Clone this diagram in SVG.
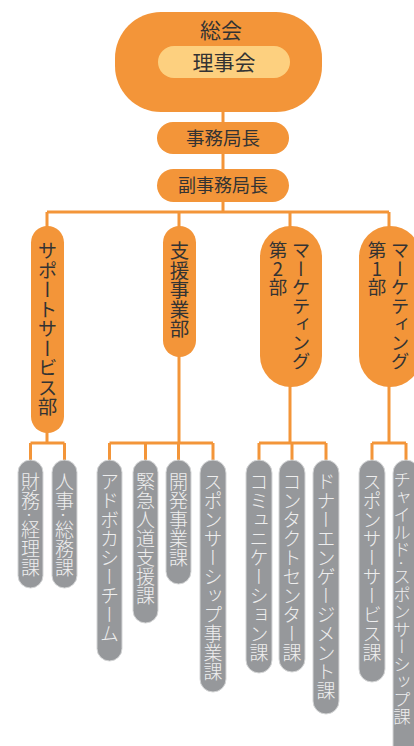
<svg xmlns="http://www.w3.org/2000/svg" width="414" height="746" viewBox="0 0 414 746">
<style>
.o{fill:#F39539;}
.y{fill:#FDD07F;}
.g{fill:#96989B;stroke:#D4D5D6;stroke-width:1;}
.ln{stroke:#F39539;stroke-width:3;fill:none;}
.t{font-family:"Noto Sans CJK JP","Noto Sans",sans-serif;fill:#333333;}
.h{text-anchor:middle;}
.v{writing-mode:vertical-rl;}
.up{text-orientation:upright;}
.vd{font-size:19.5px;}
.vm{font-size:18.5px;}
.vg{font-size:19px;fill:#EEEEEE;font-weight:300;}
</style>
<rect width="414" height="746" fill="#FFFFFF"/>
<g id="connectors">
<path class="ln" d="M223,110 V212 M47,212 H389 M47,212 V228 M179,212 V228 M290,212 V228 M389,212 V228"/>
<path class="ln" d="M47,431 V443 M30.5,443 H64.5 M30.5,443 V462 M64.5,443 V462"/>
<path class="ln" d="M179,355 V443 M109.5,443 H213 M109.5,443 V462 M145.5,443 V462 M178.5,443 V462 M213,443 V462"/>
<path class="ln" d="M290,385 V443 M259,443 H326 M259,443 V462 M292,443 V462 M326,443 V462"/>
<path class="ln" d="M389,385 V443 M372,443 H406 M372,443 V462 M406,443 V462"/>
</g>
<g id="soukai">
<rect class="o" x="115" y="12" width="207" height="100" rx="46"/>
<text class="t h" x="221" y="38" font-size="21">総会</text>
</g>
<g id="rijikai">
<rect class="y" x="158" y="46" width="132" height="32" rx="16"/>
<text class="t h" x="224" y="70" font-size="21">理事会</text>
</g>
<g id="jimukyokucho">
<rect class="o" x="157" y="122" width="132" height="32" rx="16"/>
<text class="t h" x="223" y="145" font-size="18.5">事務局長</text>
</g>
<g id="fukujimukyokucho">
<rect class="o" x="157" y="169" width="132" height="33" rx="16.5"/>
<text class="t h" x="223" y="192" font-size="18">副事務局長</text>
</g>
<g id="dept-support">
<rect class="o" x="31" y="226" width="33" height="207" rx="16.5"/>
<text class="t v vd" x="47.5" y="241">サポートサービス部</text>
</g>
<g id="dept-shien">
<rect class="o" x="163" y="226" width="33" height="131" rx="16.5"/>
<text class="t v vd" x="179.5" y="241">支援事業部</text>
</g>
<g id="dept-mkt2">
<rect class="o" x="260" y="226" width="62" height="161" rx="31"/>
<text class="t v vm" x="301" y="241">マーケティング</text>
<text class="t v up vm" x="278" y="241">第2部</text>
</g>
<g id="dept-mkt1">
<rect class="o" x="359" y="226" width="62" height="161" rx="31"/>
<text class="t v vm" x="400" y="241">マーケティング</text>
<text class="t v up vm" x="377" y="241">第1部</text>
</g>
<g id="sec-zaimu">
<rect class="g" x="18" y="460" width="25" height="128" rx="12.5"/>
<text class="t v vg" x="30.5" y="472">財務·経理課</text>
</g>
<g id="sec-jinji">
<rect class="g" x="52" y="460" width="25" height="128" rx="12.5"/>
<text class="t v vg" x="64.5" y="472">人事·総務課</text>
</g>
<g id="sec-advocacy">
<rect class="g" x="97" y="460" width="25" height="201" rx="12.5"/>
<text class="t v vg" x="109.5" y="472">アドボカシーチーム</text>
</g>
<g id="sec-kinkyu">
<rect class="g" x="133" y="460" width="25" height="163" rx="12.5"/>
<text class="t v vg" x="145.5" y="472">緊急人道支援課</text>
</g>
<g id="sec-kaihatsu">
<rect class="g" x="166" y="460" width="25" height="124" rx="12.5"/>
<text class="t v vg" x="178.5" y="472">開発事業課</text>
</g>
<g id="sec-sponsorship">
<rect class="g" x="200" y="460" width="26" height="232" rx="13"/>
<text class="t v vg" x="213" y="472">スポンサーシップ事業課</text>
</g>
<g id="sec-communication">
<rect class="g" x="246" y="460" width="26" height="213" rx="13"/>
<text class="t v vg" x="259" y="472">コミュニケーション課</text>
</g>
<g id="sec-contact">
<rect class="g" x="279" y="460" width="26" height="212" rx="13"/>
<text class="t v vg" x="292" y="472">コンタクトセンター課</text>
</g>
<g id="sec-donor">
<rect class="g" x="313" y="460" width="26" height="254" rx="13"/>
<text class="t v vg" x="326" y="472">ドナーエンゲージメント課</text>
</g>
<g id="sec-sponsorservice">
<rect class="g" x="359" y="460" width="26" height="222" rx="13"/>
<text class="t v vg" x="372" y="472">スポンサーサービス課</text>
</g>
<g id="sec-child">
<rect class="g" x="393" y="460" width="26" height="300" rx="13"/>
<text class="t v vg" x="402" y="471" style="font-size:17.5px">チャイルド·スポンサーシップ課</text>
</g>
</svg>
